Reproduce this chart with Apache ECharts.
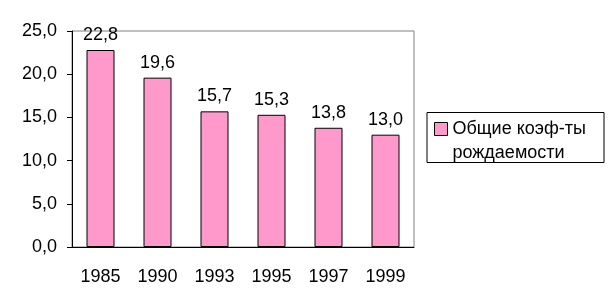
<!DOCTYPE html>
<html><head><meta charset="utf-8">
<script src="https://cdn.jsdelivr.net/npm/echarts@6/dist/echarts.min.js"></script>
<style>html,body{margin:0;padding:0;background:#fff}#c{width:613px;height:307px}</style>
</head><body><div id="c"></div>
<script>
const categories = ['1985','1990','1993','1995','1997','1999'];
const values = [22.8, 19.6, 15.7, 15.3, 13.8, 13.0];
const seriesName = 'Общие коэф-ты\nрождаемости';
const yMin = 0, yMax = 25, yStep = 5;

const fmt = v => v.toFixed(1).replace('.', ',');
const font = 'Liberation Sans, Arial, sans-serif';
const chart = echarts.init(document.getElementById('c'));
chart.setOption({
  animation: false,
  textStyle: {fontFamily: font},
  grid: {left: 72, right: 199, top: 31, bottom: 60, show: true, borderColor: '#808080', borderWidth: 1},
  xAxis: {
    type: 'category', data: categories,
    axisLine: {lineStyle: {color: '#000'}},
    axisTick: {length: 5, lineStyle: {color: '#000'}},
    axisLabel: {color: '#000', fontSize: 18, fontFamily: font, margin: 21}
  },
  yAxis: {
    type: 'value', min: yMin, max: yMax, interval: yStep,
    axisLine: {show: true, lineStyle: {color: '#000'}},
    axisTick: {show: true, length: 5, lineStyle: {color: '#000'}},
    splitLine: {show: false},
    axisLabel: {color: '#000', fontSize: 18, fontFamily: font, margin: 15, formatter: v => fmt(v)}
  },
  legend: {
    left: 434, top: 93, padding: 0, orient: 'vertical',
    icon: 'rect', itemWidth: 13, itemHeight: 13,
    itemStyle: {borderColor: '#000', borderWidth: 1},
    formatter: n => '\n' + n,
    textStyle: {fontSize: 18, fontFamily: font, color: '#000', lineHeight: 24},
    data: [seriesName]
  },
  graphic: [{type: 'rect', shape: {x: 427, y: 112.5, width: 177, height: 50}, style: {fill: 'none', stroke: '#000', lineWidth: 1}, silent: true}],
  series: [{
    type: 'bar', name: seriesName, data: values,
    barWidth: 28,
    itemStyle: {color: '#FF99CC', borderColor: '#000', borderWidth: 1},
    label: {show: true, position: 'top', distance: 6, color: '#000', fontSize: 18, fontFamily: font, formatter: p => fmt(p.value)}
  }]
});
</script></body></html>
